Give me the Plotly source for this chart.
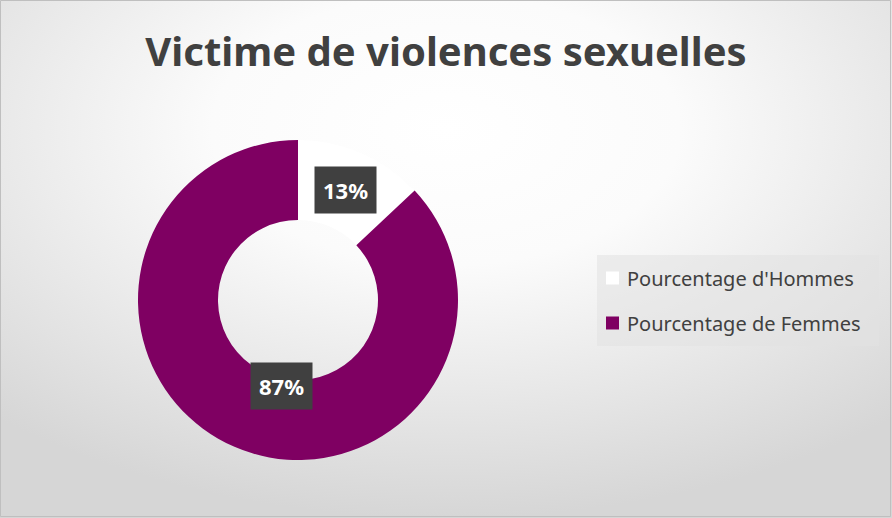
import math, base64
import plotly.graph_objects as go

title = "Victime de violences sexuelles"
labels = ["Pourcentage d'Hommes", "Pourcentage de Femmes"]
values = [13, 87]
colors = ["#FFFFFF", "#7F0062"]

W, H = 892, 518
# donut geometry (pixels)
cx, cy, R = 298, 300, 160
hole = 0.5

svg = f'''<svg xmlns="http://www.w3.org/2000/svg" width="{W}" height="{H}">
<defs><radialGradient id="g" cx="0.5" cy="0.25" r="0.75" gradientUnits="objectBoundingBox">
<stop offset="0" stop-color="#ffffff"/><stop offset="0.35" stop-color="#fbfbfb"/>
<stop offset="1" stop-color="#d6d6d6"/></radialGradient></defs>
<rect width="{W}" height="{H}" fill="url(#g)"/></svg>'''
bg = "data:image/svg+xml;base64," + base64.b64encode(svg.encode()).decode()

fig = go.Figure(go.Pie(
    labels=labels, values=values, hole=hole, sort=False, direction="clockwise",
    rotation=0, marker=dict(colors=colors, line=dict(width=0)),
    textinfo="none", hoverinfo="label+percent", showlegend=False,
    domain=dict(x=[(cx - R) / W, (cx + R) / W], y=[(H - cy - R) / H, (H - cy + R) / H]),
))

# data labels at slice midpoints
total = sum(values)
cum = 0
ann = []
for v in values:
    mid = cum + v / 2
    cum += v
    ang = math.radians(90 - 360 * mid / total)
    r = R * (1 + hole) / 2
    px = cx + r * math.cos(ang)
    py = cy - r * math.sin(ang)
    ann.append(dict(x=px / W, y=1 - py / H, xref="paper", yref="paper",
                    text=f"<b>{round(100 * v / total)}%</b>", showarrow=False,
                    font=dict(family="Noto Sans", size=22, color="white"),
                    bgcolor="#404040", borderpad=8))

# legend (manual, to match entry spacing)
shapes = [dict(type="rect", xref="paper", yref="paper", x0=597 / W, x1=879 / W,
               y0=1 - 346 / H, y1=1 - 255 / H, fillcolor="rgba(225,225,225,0.55)",
               line=dict(width=0), layer="below")]
ly = [278, 323]
for lab, col, y in zip(labels, colors, ly):
    shapes.append(dict(type="rect", xref="paper", yref="paper", x0=606 / W, x1=619 / W,
                       y0=1 - (y + 6.5) / H, y1=1 - (y - 6.5) / H, fillcolor=col,
                       line=dict(width=0)))
    ann.append(dict(x=625 / W, y=1 - y / H, xref="paper", yref="paper", xanchor="left",
                    yanchor="middle", text=lab, showarrow=False,
                    font=dict(family="Noto Sans", size=20, color="#404040")))

shapes.append(dict(type="rect", xref="paper", yref="paper", x0=0.5 / W, x1=1 - 1.5 / W,
                   y0=1.5 / H, y1=1 - 0.5 / H, line=dict(color="#BFBFBF", width=1)))

fig.update_layout(
    width=W, height=H, margin=dict(l=0, r=0, t=0, b=0),
    paper_bgcolor="white", plot_bgcolor="rgba(0,0,0,0)",
    title=dict(text=f"<b>{title}</b>", x=0.5, xanchor="center", y=1 - 52 / H, yanchor="middle",
               font=dict(family="Noto Sans", size=40, color="#404040")),
    images=[dict(source=bg, xref="paper", yref="paper", x=0, y=1, sizex=1, sizey=1,
                 sizing="stretch", layer="below")],
    annotations=ann, shapes=shapes,
)
fig.write_html("out.html", config={"displayModeBar": False},
               post_script="document.body.style.margin='0';")
